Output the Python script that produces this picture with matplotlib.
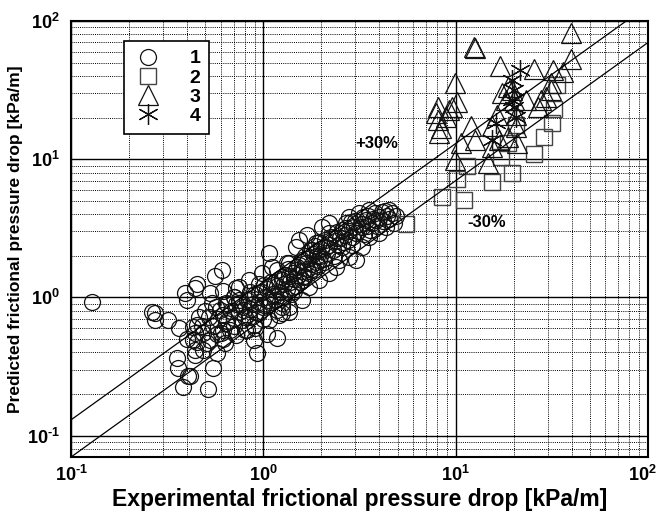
import numpy as np
import matplotlib
matplotlib.use("Agg")
import matplotlib.pyplot as plt
import matplotlib.transforms as mtransforms
from matplotlib.ticker import FixedLocator, FixedFormatter, LogLocator, NullFormatter

plt.rcParams['font.family'] = ['Liberation Sans', 'DejaVu Sans']
plt.rcParams['mathtext.fontset'] = 'custom'
plt.rcParams['mathtext.bf'] = 'Liberation Sans:bold'
plt.rcParams['mathtext.rm'] = 'Liberation Sans:bold'

# series 1 (circles): experimental / predicted
x1 = [0.128, 0.263, 0.272, 0.318, 0.363, 0.390, 0.399, 0.439, 0.354, 0.358,
      0.404, 0.380, 0.429, 0.439, 0.429, 0.272, 0.450, 0.557, 0.606, 0.525,
      0.613, 0.724, 0.538, 0.592, 0.450, 0.450, 0.483, 0.507, 0.414, 0.439,
      0.513, 0.544, 0.571, 0.628, 0.667, 0.643, 0.707, 0.724, 0.817, 0.898,
      0.931, 1.17, 1.04, 0.751, 0.846, 0.953, 1.07, 1.25, 1.36, 0.846,
      0.953, 0.778, 0.846, 0.988, 1.11, 1.32, 1.48, 1.25, 1.41, 0.751,
      0.643, 0.707, 0.613, 0.571, 0.483, 0.525,
      1.07, 1.17, 1.25, 1.36, 1.48, 1.54, 1.69, 1.79, 1.67, 1.59,
      1.45, 1.25, 1.17, 1.95, 2.12, 2.20, 2.02, 2.20, 2.39, 2.56,
      2.79, 2.89, 2.69, 2.79, 3.14, 3.26, 3.54, 3.54, 3.85, 4.14,
      4.34, 4.66, 4.77, 3.99, 3.26, 3.03, 2.39, 2.20, 1.95, 1.73,
      1.59, 1.36, 1.25, 1.88, 3.03, 3.67, 3.42,
      1.01, 1.14, 1.28, 0.898, 1.07, 1.21, 0.797, 1.01, 1.36, 1.54,
      1.14, 1.84, 2.07, 2.33, 1.63, 1.90, 2.48, 4.9, 4.5,
      0.55, 0.58, 0.62, 0.65, 0.68, 0.70, 0.72, 0.75, 0.78, 0.80,
      0.82, 0.85, 0.88, 0.90, 0.92, 0.95, 0.98, 1.00, 1.02, 1.05,
      1.08, 1.10, 1.12, 1.15, 1.18, 1.20, 1.22, 1.25, 1.28, 1.30,
      1.33, 1.35, 1.38, 1.40, 1.42, 1.45, 1.48, 1.50, 1.52, 1.55,
      1.58, 1.60, 1.62, 1.65, 1.68, 1.70, 1.72, 1.75, 1.78, 1.80,
      1.82, 1.85, 1.88, 1.90, 1.92, 1.95, 1.98, 2.00, 2.05, 2.10,
      2.15, 2.20, 2.25, 2.30, 2.35, 2.40, 2.45, 2.50, 2.55, 2.60,
      2.65, 2.70, 2.75, 2.80, 2.85, 2.90, 2.95, 3.00, 3.10, 3.20,
      3.30, 3.35, 3.45, 3.50, 3.60, 3.70, 3.80, 3.90, 4.00, 4.20,
      4.30, 4.40, 4.50, 0.60, 0.65, 0.70, 0.52, 0.48, 0.57, 0.50,
      0.44, 0.62, 0.40, 0.46, 0.75, 0.85, 0.95, 1.00, 0.90, 0.80]
y1 = [0.92, 0.778, 0.681, 0.681, 0.596, 1.07, 0.95, 1.16, 0.367, 0.306,
      0.272, 0.226, 0.488, 0.413, 0.606, 0.766, 1.26, 1.44, 1.57, 1.07,
      1.12, 1.16, 0.905, 0.805, 0.627, 0.472, 0.557, 0.464, 0.272, 0.380,
      0.219, 0.311, 0.399, 0.464, 0.577, 0.648, 0.705, 0.531, 0.577, 0.488,
      0.399, 0.505, 0.548, 0.905, 0.98, 1.07, 0.95, 0.847, 0.778, 0.716,
      0.766, 0.681, 1.33, 1.49, 1.65, 1.76, 1.57, 1.33, 1.18, 1.18,
      0.905, 1.0, 0.577, 0.548, 0.413, 0.488,
      2.08, 1.57, 1.40, 1.76, 2.30, 2.59, 2.81, 2.19, 1.76, 1.33,
      1.12, 0.905, 0.805, 1.85, 2.30, 2.91, 3.21, 3.44, 2.68, 2.30,
      1.95, 2.38, 3.44, 3.80, 4.06, 3.21, 2.72, 4.27, 3.61, 4.13,
      3.21, 4.06, 3.44, 2.91, 2.30, 1.85, 1.65, 1.49, 1.33, 1.18,
      0.95, 0.847, 0.766, 2.46, 2.91, 3.44, 3.61,
      0.875, 1.03, 1.03, 0.627, 0.681, 0.741, 0.805, 1.22, 1.44, 1.71,
      1.22, 1.57, 1.79, 2.01, 1.44, 2.01, 1.85, 3.9, 4.3,
      0.62, 0.70, 0.75, 0.68, 0.80, 0.62, 0.90, 0.78, 0.85, 0.72,
      0.95, 0.82, 0.90, 1.05, 0.78, 0.92, 1.10, 0.85, 1.00, 1.15,
      0.92, 1.30, 1.05, 0.95, 1.20, 1.35, 1.10, 1.00, 1.25, 1.45,
      1.15, 1.60, 1.30, 1.05, 1.50, 1.35, 1.20, 1.65, 1.45, 1.30,
      1.85, 1.55, 1.40, 2.00, 1.60, 1.90, 1.50, 2.20, 1.75, 1.60,
      2.05, 2.35, 1.80, 2.15, 1.70, 2.50, 2.00, 2.25, 1.90, 2.60,
      2.10, 2.40, 2.75, 2.20, 2.55, 2.95, 2.40, 2.70, 3.10, 2.50,
      2.85, 3.20, 2.60, 3.00, 3.50, 2.75, 3.25, 3.60, 3.00, 3.40,
      3.80, 2.90, 3.30, 3.90, 3.10, 3.70, 4.10, 3.30, 3.80, 3.60,
      4.20, 3.90, 3.70, 0.55, 0.90, 1.00, 0.72, 0.62, 0.85, 0.80,
      0.55, 0.50, 0.50, 0.72, 0.95, 1.10, 1.25, 0.70, 0.60, 0.58]

# series 2 (squares)
x2 = [5.51, 8.46, 11.1, 10.2, 11.4, 15.4, 17.1, 19.7, 25.4, 28.6,
      31.8, 32.6, 33.8, 20.5, 18.6]
y2 = [3.38, 5.31, 5.04, 7.17, 8.90, 6.81, 10.3, 7.92, 10.9, 14.4,
      18.2, 23.0, 34.4, 17.6, 13.1]

# series 3 (triangles)
x3 = [39.9, 12.5, 12.6, 16.9, 25.4, 32.2, 36.3, 39.9, 9.88, 18.8,
      19.5, 31.4, 31.4, 8.07, 7.9, 8.07, 8.36, 8.2, 9.2, 9.53,
      10.1, 8.87, 12.0, 10.7, 12.6, 15.4, 16.3, 17.3, 18.2, 20.0,
      20.5, 23.1, 26.9, 27.9, 29.3, 20.5, 20.8, 18.8, 16.7, 14.8,
      9.88, 15.4]
y3 = [81.9, 64.8, 64.0, 47.2, 44.9, 44.0, 42.7, 53.0, 35.5, 33.3,
      31.6, 35.5, 31.6, 23.8, 21.5, 19.2, 16.8, 15.4, 22.6, 23.8,
      25.9, 20.2, 17.3, 13.1, 13.7, 17.3, 20.8, 30.1, 26.8, 26.8,
      20.8, 26.8, 23.8, 26.8, 28.1, 17.1, 13.1, 14.4, 13.7, 9.35,
      9.84, 12.2]

# series 4 (asterisks)
x4 = [21.7, 19.5, 20.0, 19.5, 20.0, 16.1, 15.4, 20.5]
y4 = [44.0, 37.4, 31.6, 26.8, 23.8, 18.2, 13.7, 20.2]

labels = ['1', '2', '3', '4']
band = [1.3, 0.7]
band_text = ['+30%', '-30%']
tick_vals = [0.1, 1, 10, 100]
tick_text = [r'$\mathbf{10^{\text{-}1}}$', r'$\mathbf{10^{0}}$',
             r'$\mathbf{10^{1}}$', r'$\mathbf{10^{2}}$']

fig = plt.figure(figsize=(6.62, 5.15), dpi=100)
ax = fig.add_axes([0.1073, 0.1126, 0.8717, 0.8466])

ax.plot(x1, y1, 'o', ms=11.5, mfc='none', mec='#111111', mew=0.9, label=labels[0])
ax.plot(x2, y2, 's', ms=11, mfc='none', mec='#444444', mew=1.0, label=labels[1])
ax.plot(x3, y3, '^', ms=14, mfc='none', mec='#111111', mew=0.9, label=labels[2])
ax.plot(x4, y4, marker=(6, 2, 0), ls='none', ms=15, mec='#111111', mew=0.9, label=labels[3])

xx = np.array([0.1, 100.0])
for f in band:
    ax.plot(xx, f * xx, '-', color='black', lw=0.9)

ax.text(3.9, 13.0, band_text[0], fontsize=12, fontweight='bold', ha='center', va='center')
ax.text(14.5, 3.5, band_text[1], fontsize=12, fontweight='bold', ha='center', va='center')

ax.set_xscale('log')
ax.set_yscale('log')
ax.set_xlim(0.1, 100)
ax.set_ylim(0.07, 100)

for axis in (ax.xaxis, ax.yaxis):
    axis.set_major_locator(FixedLocator(tick_vals))
    axis.set_major_formatter(FixedFormatter(tick_text))
    axis.set_minor_locator(LogLocator(base=10, subs=np.arange(2, 10), numticks=20))
    axis.set_minor_formatter(NullFormatter())

ax.tick_params(which='both', length=0, labelsize=13)
ax.tick_params(axis='x', pad=6)
ax.tick_params(axis='y', pad=8)
ax.grid(True, which='major', color='black', lw=1.0, ls='-')
ax.grid(True, which='minor', color='black', lw=0.7, ls=(0, (1, 1.2)))
ax.set_axisbelow(True)
for s in ax.spines.values():
    s.set_linewidth(1.5)

ax.set_xlabel('Experimental frictional pressure drop [kPa/m]', fontsize=16.5,
              fontweight='bold', labelpad=2)
ax.set_ylabel('Predicted frictional pressure drop [kPa/m]', fontsize=12.5,
              fontweight='bold', labelpad=3)

# keep the right-most x label inside the figure
fig.canvas.draw()
xlabels = ax.get_xticklabels()
xlabels[-1].set_transform(xlabels[-1].get_transform() +
                          mtransforms.ScaledTranslation(-6 / 100, 0, fig.dpi_scale_trans))

leg = ax.legend(loc='upper left', bbox_to_anchor=(0.092, 0.954), borderaxespad=0,
                prop={'weight': 'bold', 'size': 14}, fancybox=False,
                edgecolor='black', framealpha=1, handletextpad=1.3,
                borderpad=0.45, labelspacing=0.08, handlelength=1.6)
leg.get_frame().set_linewidth(1.2)

fig.savefig('out.png', dpi=100)
